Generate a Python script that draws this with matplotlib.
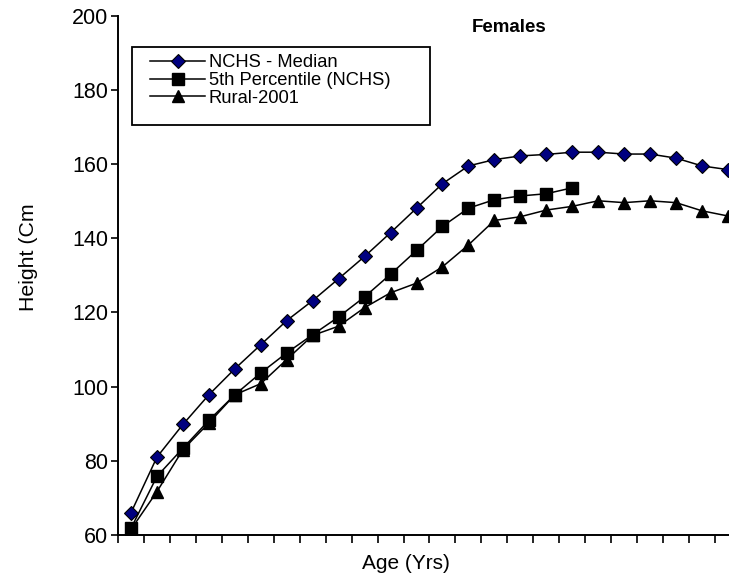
import matplotlib
matplotlib.use("Agg")
import matplotlib.pyplot as plt
from matplotlib.patches import Rectangle
import numpy as np

plt.rcParams['font.family'] = ['Liberation Sans', 'DejaVu Sans']

# heights (cm), one point per age category
nchs_median = [66.0, 81.0, 89.8, 97.8, 104.8, 111.3, 117.8, 123.2, 129.1, 135.1,
               141.5, 148.1, 154.7, 159.5, 161.2, 162.2, 162.6, 163.2, 163.2, 162.7,
               162.7, 161.6, 159.5, 158.5]
nchs_p5 = [61.8, 75.8, 83.4, 90.9, 97.8, 103.7, 109.1, 114.0, 118.8, 124.2,
           130.3, 136.7, 143.2, 148.1, 150.4, 151.4, 152.0, 153.6]
rural_2001 = [61.5, 71.7, 83.0, 90.2, 97.8, 100.8, 107.3, 113.8, 116.3, 121.3,
              125.3, 127.9, 132.3, 138.2, 144.8, 145.8, 147.6, 148.6, 150.1, 149.6,
              150.1, 149.6, 147.4, 146.0]
labels = ['NCHS - Median', '5th Percentile (NCHS)', 'Rural-2001']
yticks = [60, 80, 100, 120, 140, 160, 180, 200]

fig = plt.figure(figsize=(7.29, 5.77), dpi=100)
ax = fig.add_axes([0.1619, 0.0728, 0.8381, 0.9000])

lw = 1.1
ax.plot(np.arange(len(nchs_median)), nchs_median, color='k', lw=lw, marker='D',
        ms=7.5, mfc='#000080', mec='k', mew=0.8, label=labels[0])
ax.plot(np.arange(len(nchs_p5)), nchs_p5, color='k', lw=lw, marker='s',
        ms=8, mfc='k', mec='k', label=labels[1])
ax.plot(np.arange(len(rural_2001)), rural_2001, color='k', lw=lw, marker='^',
        ms=8.5, mfc='k', mec='k', label=labels[2])

ax.set_xlim(-0.5, 23.04)
ax.set_ylim(60, 200)
ax.set_yticks(yticks)
ax.set_xticks(np.arange(-0.5, 23.5, 1))
ax.set_xticklabels([])
ax.tick_params(axis='y', labelsize=15.5, length=5, width=1.2, direction='out', pad=2)
ax.tick_params(axis='x', length=6, width=1.2, direction='out')

ax.spines['top'].set_visible(False)
ax.spines['right'].set_visible(False)
ax.spines['left'].set_linewidth(1.4)
ax.spines['bottom'].set_linewidth(1.4)

ax.set_ylabel('Height (Cm', fontsize=15.3)
ax.yaxis.set_label_coords(-0.131, 0.535)
ax.set_xlabel('Age (Yrs)', fontsize=15)
ax.xaxis.set_label_coords(0.471, -0.036)

ax.text(0.64, 0.978, 'Females', transform=ax.transAxes, fontsize=13.5,
        fontweight='bold', ha='center', va='center')

# legend frame drawn separately (Excel-style box with extra bottom room)
ax.add_patch(Rectangle((0.0229, 0.7895), 0.4878, 0.1502, transform=ax.transAxes,
                       fill=False, ec='k', lw=1.3, clip_on=False, zorder=5))
ax.legend(loc='upper left', bbox_to_anchor=(0.0524, 0.9262), fontsize=13.2,
          frameon=False, handlelength=3.0, handletextpad=0.2, labelspacing=0.05,
          borderpad=0.0, borderaxespad=0.0)

fig.savefig('out.png', dpi=100)
